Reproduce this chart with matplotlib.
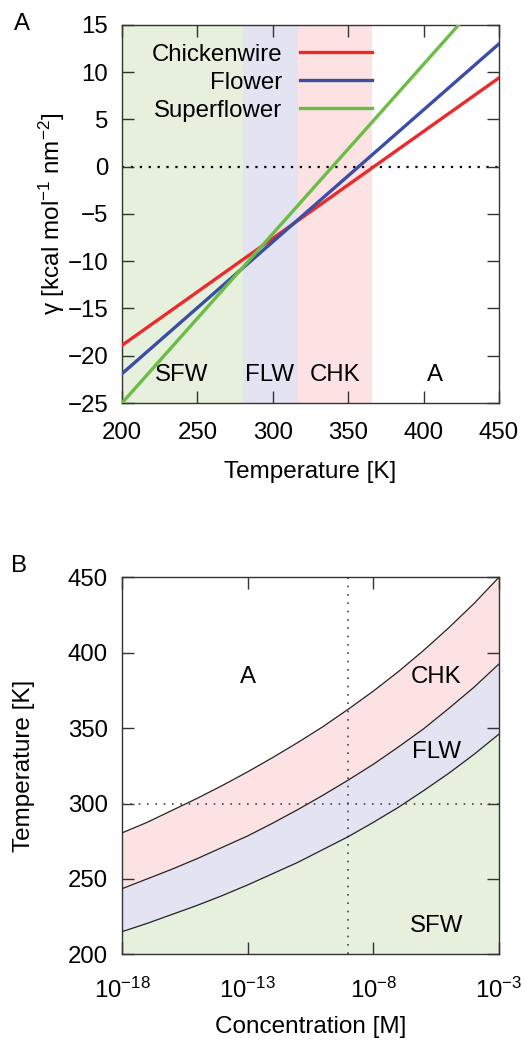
import matplotlib
matplotlib.use("Agg")
import matplotlib.pyplot as plt
import numpy as np

plt.rcParams['font.family'] = ['Liberation Sans', 'DejaVu Sans']
plt.rcParams['mathtext.fontset'] = 'custom'
plt.rcParams['mathtext.rm'] = 'Liberation Sans'
plt.rcParams['mathtext.it'] = 'Liberation Sans:italic'

# panel A: surface tension vs temperature (straight lines, read at the ends)
temps = [200, 450]
gamma_chk = [-18.9, 9.4]
gamma_flw = [-21.9, 13.0]
gamma_sfw = [-25.0, 19.8]
line_names = ['Chickenwire', 'Flower', 'Superflower']

# phase boundaries along T (K) and the labels of each band
phase_edges = [200, 280, 317, 366, 450]
phase_names = ['SFW', 'FLW', 'CHK', 'A']

# panel B: phase boundaries vs concentration (log10 M)
log_conc = [-18, -17, -16, -15, -14, -13, -12, -11, -10, -9, -8, -7, -6, -5, -4, -3]
t_chk_a = [280.5, 287.5, 295.5, 303.5, 312, 321, 330.5, 340.5, 351, 362.5, 374.5,
           387.5, 401.5, 416.5, 432.5, 450]
t_flw_chk = [243.5, 250, 256.5, 263.5, 271, 278.5, 287, 296, 305.5, 315.5, 326,
             337.5, 349.5, 363, 377, 392.5]
t_sfw_flw = [215, 220.5, 226.5, 232.5, 239, 246, 253.5, 261, 269.5, 278, 287.5,
             297.5, 308.5, 320, 332.5, 346]

red = '#ec2a2c'
blue = '#3b4ea6'
green = '#6bbd45'
pink = '#fde2e3'
lav = '#e3e3f2'
lgreen = '#e6f0dc'
spine = '#333333'

fs = 17.3

fig = plt.figure(figsize=(5.25, 10.4), dpi=100)
axA = fig.add_axes([0.2324, 0.6125, 0.718, 0.3635])
axB = fig.add_axes([0.2324, 0.0824, 0.718, 0.3625])

# ---- panel A
band_cols = [lgreen, lav, pink, 'white']
for i in range(len(phase_names)):
    axA.axvspan(phase_edges[i], phase_edges[i + 1], color=band_cols[i], lw=0, zorder=0)
axA.axhline(0, color='black', ls=(0, (1, 3)), lw=1.6, zorder=1)
axA.plot(temps, gamma_chk, color=red, lw=2.4, label=line_names[0], zorder=3)
axA.plot(temps, gamma_flw, color=blue, lw=2.4, label=line_names[1], zorder=3)
axA.plot(temps, gamma_sfw, color=green, lw=2.4, label=line_names[2], zorder=3)
label_x = [239.5, 298, 341, 407.5]
for nm, lx in zip(phase_names, label_x):
    axA.text(lx, -22, nm, fontsize=fs, ha='center', va='center')
axA.set_xlim(200, 450)
axA.set_ylim(-25, 15)
axA.set_xticks(np.arange(200, 451, 50))
axA.set_yticks(np.arange(-25, 16, 5))
axA.set_xlabel('Temperature [K]', fontsize=17.5, va='center')
axA.xaxis.set_label_coords(0.5, -0.182)
axA.set_ylabel(r'γ [kcal mol$^{-1}$ nm$^{-2}$]', fontsize=17.5, va='center')
axA.yaxis.set_label_coords(-0.187, 0.5)
leg = axA.legend(loc='upper right', bbox_to_anchor=(0.664, 0.950), frameon=False,
                 markerfirst=False, fontsize=fs, handlelength=3.0, handletextpad=0.75,
                 labelspacing=0.25, borderpad=0, borderaxespad=0)
for t in leg.get_texts():
    t.set_ha('right')

# ---- panel B
c = [10.0 ** v for v in log_conc]
axB.fill_between(c, 200, t_sfw_flw, color=lgreen, lw=0, zorder=0)
axB.fill_between(c, t_sfw_flw, t_flw_chk, color=lav, lw=0, zorder=0)
axB.fill_between(c, t_flw_chk, t_chk_a, color=pink, lw=0, zorder=0)
for tt in [t_chk_a, t_flw_chk, t_sfw_flw]:
    axB.plot(c, tt, color='#222222', lw=0.9, zorder=3)
axB.axhline(300, color='#444444', ls=(0, (1, 4)), lw=1.2, zorder=2)
axB.axvline(1e-9, color='#444444', ls=(0, (1, 4)), lw=1.2, zorder=2)
axB.set_xscale('log')
axB.set_xlim(1e-18, 1e-3)
axB.set_ylim(200, 450)
axB.set_xticks([1e-18, 1e-13, 1e-8, 1e-3])
axB.set_xticklabels([r'10$^{-18}$', r'10$^{-13}$', r'10$^{-8}$', r'10$^{-3}$'])
axB.xaxis.set_minor_locator(matplotlib.ticker.NullLocator())
axB.set_yticks(np.arange(200, 451, 50))
axB.text(1e-13, 384, 'A', fontsize=fs, ha='center', va='center')
axB.text(10 ** -5.5, 384, 'CHK', fontsize=fs, ha='center', va='center')
axB.text(10 ** -5.5, 334, 'FLW', fontsize=fs, ha='center', va='center')
axB.text(10 ** -5.5, 219, 'SFW', fontsize=fs, ha='center', va='center')
axB.set_xlabel('Concentration [M]', fontsize=17.5, va='center')
axB.xaxis.set_label_coords(0.5, -0.193)
axB.set_ylabel('Temperature [K]', fontsize=17.5, va='center')
axB.yaxis.set_label_coords(-0.26, 0.5)

for ax in [axA, axB]:
    ax.tick_params(direction='in', length=8.5, width=1, top=True, right=True,
                   labelsize=fs, color=spine)
    ax.tick_params(axis='y', pad=10)
    for s in ax.spines.values():
        s.set_color(spine)
        s.set_linewidth(1)
axA.tick_params(axis='x', pad=14)
axB.tick_params(axis='x', pad=17)

fig.text(22 / 525, 1 - 24 / 1040, 'A', fontsize=fs, ha='center', va='center')
fig.text(19 / 525, 1 - 566 / 1040, 'B', fontsize=fs, ha='center', va='center')

fig.savefig('out.png', dpi=100)
